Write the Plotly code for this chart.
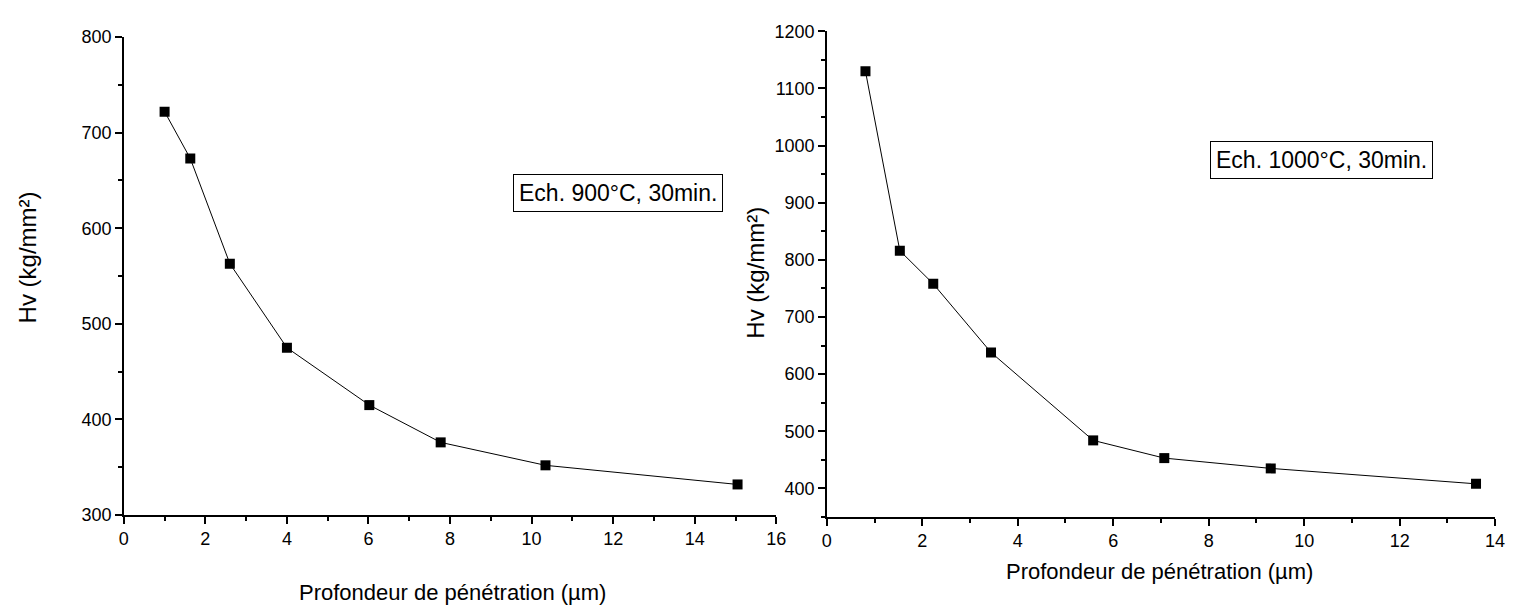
import plotly.graph_objects as go

# Data
depth_900 = [1.0, 1.63, 2.6, 4.0, 6.02, 7.77, 10.34, 15.05]
hv_900 = [722, 673, 563, 475, 415, 376, 352, 332]
depth_1000 = [0.81, 1.53, 2.23, 3.44, 5.58, 7.07, 9.3, 13.6]
hv_1000 = [1130, 816, 758, 638, 484, 453, 435, 408]

label_900 = "Ech. 900°C, 30min."
label_1000 = "Ech. 1000°C, 30min."
xtitle = "Profondeur de pénétration (µm)"
ytitle = "Hv (kg/mm²)"

W, H = 1517, 615
FONT = "Liberation Sans, Arial, sans-serif"

fig = go.Figure()
mk = dict(symbol="square", size=10, color="black")
ln = dict(color="black", width=1)
fig.add_trace(go.Scatter(x=depth_900, y=hv_900, mode="lines+markers", marker=mk, line=ln,
                         xaxis="x", yaxis="y", showlegend=False))
fig.add_trace(go.Scatter(x=depth_1000, y=hv_1000, mode="lines+markers", marker=mk, line=ln,
                         xaxis="x2", yaxis="y2", showlegend=False))

def ax(rng, dtick, domain, anchor, minor_dtick):
    return dict(range=rng, dtick=dtick, tick0=0, domain=domain, anchor=anchor,
                showgrid=False, zeroline=False, showline=True, linecolor="black", linewidth=1.5,
                ticks="outside", ticklen=7, tickwidth=1.5, tickcolor="black",
                minor=dict(ticks="outside", ticklen=4, tickwidth=1.5, tickcolor="black", dtick=minor_dtick, showgrid=False),
                tickfont=dict(family=FONT, size=18, color="black"))

fig.update_layout(
    width=W, height=H,
    margin=dict(l=0, r=0, t=0, b=0),
    paper_bgcolor="white", plot_bgcolor="white",
    xaxis=ax([0, 16], 2, [120/W, 779/W], "y", 1),
    yaxis=ax([300, 800], 100, [1-522/H, 1-28/H], "x", 50),
    xaxis2=ax([0, 14], 2, [830/W, 1505/W], "y2", 1),
    yaxis2=ax([350, 1200], 100, [1-524/H, 1-22/H], "x2", 50),
)

xf = dict(family=FONT, size=22, color="black")
yf = dict(family=FONT, size=24, color="black")
bf = dict(family=FONT, size=23, color="black")
C = dict(xref="paper", yref="paper", showarrow=False, xanchor="center", yanchor="middle")
ann = [
    dict(text=xtitle, x=452/W, y=1-602/H, font=xf, **C),
    dict(text=xtitle, x=1166/W, y=1-580/H, font=xf, **C),
    dict(text=ytitle, x=23/W, y=1-256/H, font=yf, textangle=-90, **C),
    dict(text=ytitle, x=758/W, y=1-272/H, font=yf, textangle=-90, **C),
    dict(text=label_900, x=619/W, y=1-189/H, font=bf, bordercolor="black", borderwidth=1,
         borderpad=5, bgcolor="white", **C),
    dict(text=label_1000, x=1330/W, y=1-155/H, font=bf, bordercolor="black", borderwidth=1,
         borderpad=5, bgcolor="white", **C),
]
fig.update_layout(annotations=ann)

fig.write_html("out.html")
